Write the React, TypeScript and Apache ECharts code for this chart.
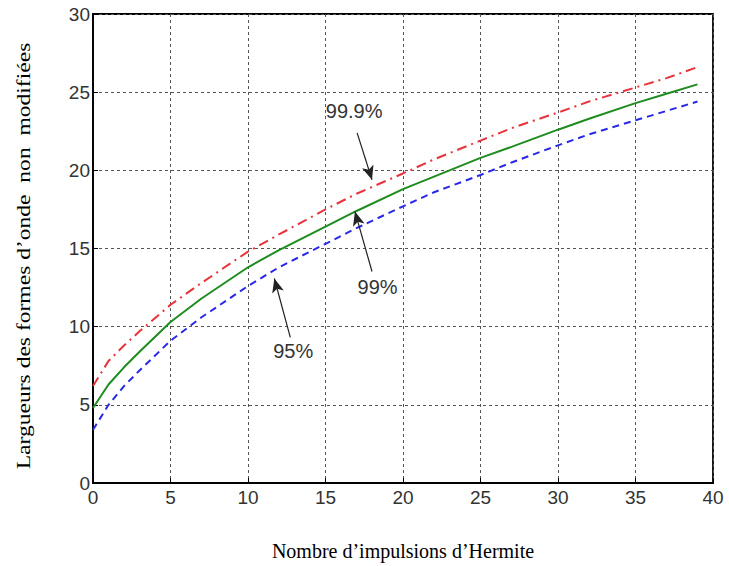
import React, { useEffect, useRef } from "react";
import * as echarts from "echarts";

const xs = [0, 1, 2, 3, 5, 7, 10, 12, 15, 17, 20, 22, 25, 27, 30, 32, 35, 37, 39];
const red999 = [6.2, 7.8, 8.8, 9.7, 11.4, 12.8, 14.8, 15.9, 17.5, 18.5, 19.8, 20.7, 21.9, 22.7, 23.7, 24.4, 25.3, 25.9, 26.6];
const green99 = [4.8, 6.3, 7.4, 8.4, 10.3, 11.8, 13.8, 14.9, 16.4, 17.4, 18.8, 19.6, 20.8, 21.5, 22.6, 23.3, 24.3, 24.9, 25.5];
const blue95 = [3.4, 5.0, 6.2, 7.2, 9.1, 10.6, 12.6, 13.8, 15.3, 16.3, 17.7, 18.6, 19.7, 20.5, 21.6, 22.3, 23.2, 23.8, 24.4];

const labels = ["99.9%", "99%", "95%"];
const labelPos = [[16.85, 23.77], [18.36, 12.54], [12.92, 8.46]];
const arrowFrom = [[17.04, 22.4], [18.0, 13.53], [12.73, 9.32]];
const arrowTo = [[18.0, 19.4], [16.9, 17.36], [11.7, 13.08]];

const xTitle = "Nombre d’impulsions d’Hermite";
const yTitle = "Largueurs des formes d’onde  non  modifiées";

export default function App() {
  const ref = useRef<HTMLDivElement>(null);
  useEffect(() => {
    const chart = echarts.init(ref.current!, null, { renderer: "svg" });
    const zip = (v: number[]) => xs.map((x, i) => [x, v[i]]);
    const lineSeries = (name: string, v: number[], color: string, type: any) => ({
      name,
      type: "line",
      data: zip(v),
      showSymbol: false,
      smooth: false,
      lineStyle: { color, width: 2, type },
      z: 3,
    });
    chart.setOption({
      animation: false,
      backgroundColor: "#fff",
      grid: {
        left: 93,
        top: 14,
        right: 16,
        bottom: 82,
        show: true,
        borderColor: "#000",
        borderWidth: 1.8,
        containLabel: false,
      },
      graphic: [
        {
          type: "text",
          x: 24,
          y: 256,
          rotation: Math.PI / 2,
          scaleX: 1.24,
          style: {
            text: yTitle,
            font: "19px 'Liberation Serif'",
            fill: "#000",
            textAlign: "center",
            textVerticalAlign: "middle",
          },
        },
      ],
      xAxis: {
        type: "value",
        min: 0,
        max: 40,
        interval: 5,
        axisLine: { show: true, lineStyle: { color: "#000", width: 1.8 } },
        axisTick: { show: true, inside: true, length: 5, lineStyle: { color: "#000" } },
        axisLabel: { color: "#333", fontFamily: "Liberation Sans", fontSize: 19, margin: 5 },
        splitLine: { show: true, lineStyle: { color: "#555", type: [3, 3], width: 1 } },
        name: xTitle,
        nameLocation: "middle",
        nameGap: 58,
        nameTextStyle: { color: "#000", fontFamily: "Liberation Serif", fontSize: 20 },
      },
      yAxis: {
        type: "value",
        min: 0,
        max: 30,
        interval: 5,
        axisLine: { show: true, lineStyle: { color: "#000", width: 1.8 } },
        axisTick: { show: true, inside: true, length: 5, lineStyle: { color: "#000" } },
        axisLabel: { color: "#333", fontFamily: "Liberation Sans", fontSize: 19, margin: 3 },
        splitLine: { show: true, lineStyle: { color: "#555", type: [3, 3], width: 1 } },
      },
      series: [
        lineSeries("99.9%", red999, "#e8323c", [10, 5, 2, 5]),
        lineSeries("99%", green99, "#1e8c1e", "solid"),
        lineSeries("95%", blue95, "#2828e6", [7, 5]),
        {
          type: "scatter",
          data: [],
          markPoint: {
            symbol: "circle",
            symbolSize: 0,
            label: {
              show: true,
              formatter: (p: any) => p.name,
              color: "#333",
              fontFamily: "Liberation Sans",
              fontSize: 20,
              position: "inside",
            },
            data: labels.map((t, i) => ({ name: t, coord: labelPos[i] })),
          },
          markLine: {
            silent: true,
            symbol: ["none", "arrow"],
            symbolSize: [9, 14],
            label: { show: false },
            lineStyle: { color: "#222", width: 1.2, type: "solid" },
            data: arrowFrom.map((f, i) => [{ coord: f }, { coord: arrowTo[i] }]),
          },
        },
      ],
    });
    return () => chart.dispose();
  }, []);
  return <div ref={ref} style={{ width: 729, height: 566, position: "absolute", left: 0, top: 0 }} />;
}
